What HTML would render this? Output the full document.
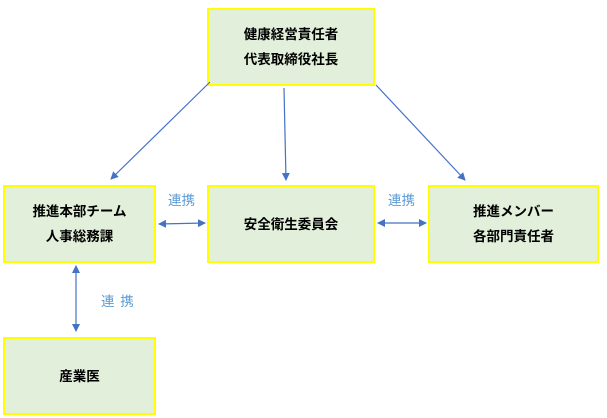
<!DOCTYPE html>
<html><head><meta charset="utf-8"><style>
body{margin:0;width:607px;height:418px;background:#fff;position:relative;overflow:hidden;font-family:"Liberation Sans","Noto Sans CJK JP",sans-serif}
.b{position:absolute;box-sizing:border-box;background:#e2efda;border:2px solid #ffff00;display:flex;align-items:center;justify-content:center;text-align:center;font-size:13.5px;line-height:25px;color:#000;font-weight:bold}
.l{position:absolute;color:#5b9bd5;font-size:13.5px}
svg{position:absolute;left:0;top:0}
</style></head><body>
<div class="b" style="left:207px;top:8px;width:168px;height:78px">健康経営責任者<br>代表取締役社長</div>
<div class="b" style="left:3px;top:185px;width:153px;height:78px">推進本部チーム<br>人事総務課</div>
<div class="b" style="left:207px;top:185px;width:168px;height:78px">安全衛生委員会</div>
<div class="b" style="left:428px;top:185px;width:171px;height:78px">推進メンバー<br>各部門責任者</div>
<div class="b" style="left:3px;top:337px;width:153px;height:78px">産業医</div>
<div class="l" style="left:168px;top:189px">連携</div>
<div class="l" style="left:388px;top:189px">連携</div>
<div class="l" style="left:101px;top:290px;letter-spacing:1px">連 携</div>
<svg width="607" height="418">
<defs><marker id="a" markerWidth="8" markerHeight="8" refX="7" refY="4" orient="auto-start-reverse" markerUnits="userSpaceOnUse"><path d="M0,0L8,4L0,8z" fill="#4472c4"/></marker></defs>
<g stroke="#4472c4" stroke-width="1.2" fill="none">
<line x1="210" y1="82" x2="111" y2="179" marker-end="url(#a)"/>
<line x1="284" y1="88" x2="286" y2="180" marker-end="url(#a)"/>
<line x1="376" y1="85" x2="465" y2="180" marker-end="url(#a)"/>
<line x1="159" y1="224" x2="205" y2="223" marker-start="url(#a)" marker-end="url(#a)"/>
<line x1="378" y1="223" x2="426" y2="223" marker-start="url(#a)" marker-end="url(#a)"/>
<line x1="76" y1="266" x2="76" y2="331" marker-start="url(#a)" marker-end="url(#a)"/>
</g></svg>
</body></html>
